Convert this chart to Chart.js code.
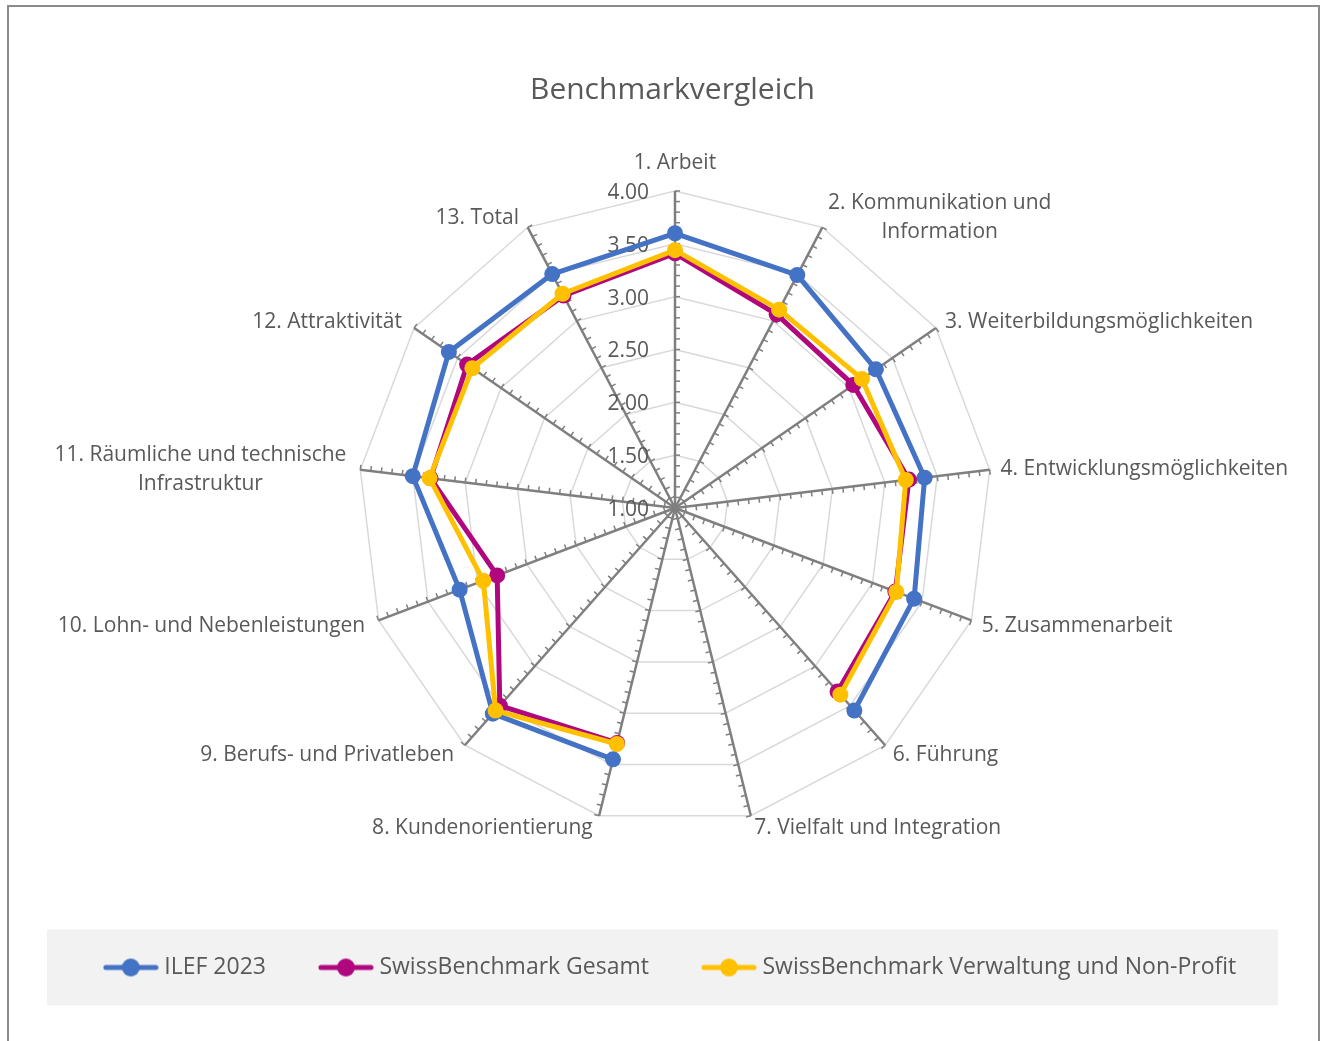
<!DOCTYPE html>
<html>
<head>
<meta charset="utf-8">
<title>Benchmarkvergleich</title>
<script src="https://cdn.jsdelivr.net/npm/chart.js@4.4.1/dist/chart.umd.min.js"></script>
<style>
  html, body { margin: 0; padding: 0; background: #fff; overflow: hidden; }
  #frame { position: absolute; left: 7px; top: 5px; width: 1313px; height: 1060px; border: 2px solid #8c8c8c; box-sizing: border-box; }
  #wrap { position: absolute; left: 0; top: 0; width: 1321px; height: 1041px; }
</style>
</head>
<body>
<div id="frame"></div>
<div id="wrap"><canvas id="chart"></canvas></div>
<script>
// data
const categories = [
  '1. Arbeit',
  ['2. Kommunikation und', 'Information'],
  '3. Weiterbildungsmöglichkeiten',
  '4. Entwicklungsmöglichkeiten',
  '5. Zusammenarbeit',
  '6. Führung',
  '7. Vielfalt und Integration',
  '8. Kundenorientierung',
  '9. Berufs- und Privatleben',
  '10. Lohn- und Nebenleistungen',
  ['11. Räumliche und technische', 'Infrastruktur'],
  '12. Attraktivität',
  '13. Total'
];
const ilef2023 = [3.60, 3.49, 3.31, 3.38, 3.42, 3.56, null, 3.45, 3.60, 3.18, 3.50, 3.60, 3.50];
const swissGesamt = [3.41, 3.07, 3.05, 3.23, 3.23, 3.32, null, 3.29, 3.50, 2.80, 3.33, 3.39, 3.27];
const swissVerwaltung = [3.44, 3.12, 3.15, 3.20, 3.24, 3.36, null, 3.30, 3.56, 2.94, 3.34, 3.33, 3.29];
const scaleMin = 1;
const scaleMax = 4;
const scaleStep = 0.5;

const FONT = "'Open Sans', 'Noto Sans', sans-serif";
const TEXT = '#595959';

// put the radar where the reference has it
const RadialScale = Chart.registry.getScale('radialLinear');
RadialScale.prototype.setCenterPoint = function () {
  this.xCenter = 675;
  this.yCenter = 508;
  this.drawingArea = 317;
};

function legendIcon(color) {
  const c = document.createElement('canvas');
  c.width = 56; c.height = 20;
  const g = c.getContext('2d');
  g.strokeStyle = color; g.lineWidth = 5; g.lineCap = 'round';
  g.beginPath(); g.moveTo(3, 10); g.lineTo(53, 10); g.stroke();
  g.fillStyle = color;
  g.beginPath(); g.arc(28, 10, 9, 0, Math.PI * 2); g.fill();
  return c;
}

const radarDecor = {
  id: 'radarDecor',
  beforeDraw(chart) {
    const ctx = chart.ctx;
    const lg = chart.legend;
    const cy = lg.top + lg.options.labels.padding + 11.5;
    ctx.save();
    ctx.fillStyle = '#f2f2f2';
    ctx.fillRect(47, cy - 38, 1231, 76);
    ctx.restore();
  },
  beforeDatasetsDraw(chart) {
    const ctx = chart.ctx;
    const s = chart.scales.r;
    const n = chart.data.labels.length;
    ctx.save();

    // minor tick marks on every axis
    ctx.strokeStyle = '#7f7f7f';
    ctx.lineWidth = 1.5;
    for (let i = 0; i < n; i++) {
      const a = s.getIndexAngle(i) - Math.PI / 2;
      const ux = Math.cos(a), uy = Math.sin(a);
      const px = -uy, py = ux;
      for (let k = 1; k <= 30; k++) {
        const d = s.getDistanceFromCenterForValue(scaleMin + k / 10);
        const x = s.xCenter + ux * d, y = s.yCenter + uy * d;
        ctx.beginPath();
        ctx.moveTo(x, y);
        ctx.lineTo(x + px * 5, y + py * 5);
        ctx.stroke();
      }
    }

    // value labels left of the first axis
    ctx.fillStyle = TEXT;
    ctx.font = '21px ' + FONT;
    ctx.textAlign = 'right';
    ctx.textBaseline = 'middle';
    s.ticks.forEach(t => {
      const d = s.getDistanceFromCenterForValue(t.value);
      ctx.fillText(t.value.toFixed(2), s.xCenter - 26, s.yCenter - d + 2);
    });

    // category labels
    ctx.textAlign = 'center';
    const lineH = 29;
    for (let i = 0; i < n; i++) {
      const lines = [].concat(chart.data.labels[i]);
      const w = Math.max(...lines.map(l => ctx.measureText(l).width));
      const h = lines.length * lineH;
      const p = s.getPointPosition(i, s.drawingArea + 10);
      const ang = s.getIndexAngle(i);
      const deg = ang * 180 / Math.PI;
      let left, cy = p.y + 1 - 2 * Math.cos(ang);
      if (deg < 1 || deg > 359) {
        left = p.x - w / 2;
        cy = p.y - 18;
      } else if (deg < 180) {
        left = p.x + 1;
      } else {
        left = p.x - 4 - w;
      }
      lines.forEach((l, j) => {
        ctx.fillText(l, left + w / 2, cy - h / 2 + lineH * (j + 0.5));
      });
    }
    ctx.restore();
  }
};

function series(label, data, color, order) {
  return {
    label: label,
    data: data,
    borderColor: color,
    backgroundColor: color,
    pointBackgroundColor: color,
    pointBorderColor: color,
    pointBorderWidth: 0,
    pointRadius: 8,
    pointHoverRadius: 8,
    borderWidth: 5,
    borderJoinStyle: 'round',
    fill: false,
    spanGaps: false,
    clip: false,
    order: order
  };
}

new Chart(document.getElementById('chart'), {
  type: 'radar',
  data: {
    labels: categories,
    datasets: [
      series('ILEF 2023', ilef2023, '#4472C4', 2),
      series('SwissBenchmark Gesamt', swissGesamt, '#B0077F', 1),
      series('SwissBenchmark Verwaltung und Non-Profit', swissVerwaltung, '#FFC000', 0)
    ]
  },
  plugins: [radarDecor],
  options: {
    responsive: true,
    maintainAspectRatio: false,
    animation: false,
    devicePixelRatio: 1,
    layout: { padding: { top: 62, bottom: 52, left: 24, right: 0 } },
    scales: {
      r: {
        min: scaleMin,
        max: scaleMax,
        beginAtZero: false,
        ticks: { stepSize: scaleStep, display: false },
        grid: { color: '#d9d9d9', lineWidth: 1.5 },
        angleLines: { color: '#7f7f7f', lineWidth: 2.5 },
        pointLabels: { display: false }
      }
    },
    plugins: {
      title: {
        display: true,
        text: 'Benchmarkvergleich',
        color: TEXT,
        font: { family: FONT, size: 30, weight: 'normal' },
        padding: { top: 10, bottom: 10 }
      },
      tooltip: { enabled: false },
      legend: {
        position: 'bottom',
        labels: {
          usePointStyle: true,
          pointStyleWidth: 44,
          boxHeight: 20,
          padding: 58,
          color: TEXT,
          font: { family: FONT, size: 23 },
          sort: (a, b) => a.datasetIndex - b.datasetIndex,
          generateLabels: chart => chart.data.datasets.map((ds, i) => ({
            text: ds.label,
            datasetIndex: i,
            hidden: false,
            fillStyle: ds.borderColor,
            strokeStyle: ds.borderColor,
            lineWidth: 0,
            fontColor: TEXT,
            pointStyle: legendIcon(ds.borderColor)
          }))
        }
      }
    }
  }
});
</script>
</body>
</html>
